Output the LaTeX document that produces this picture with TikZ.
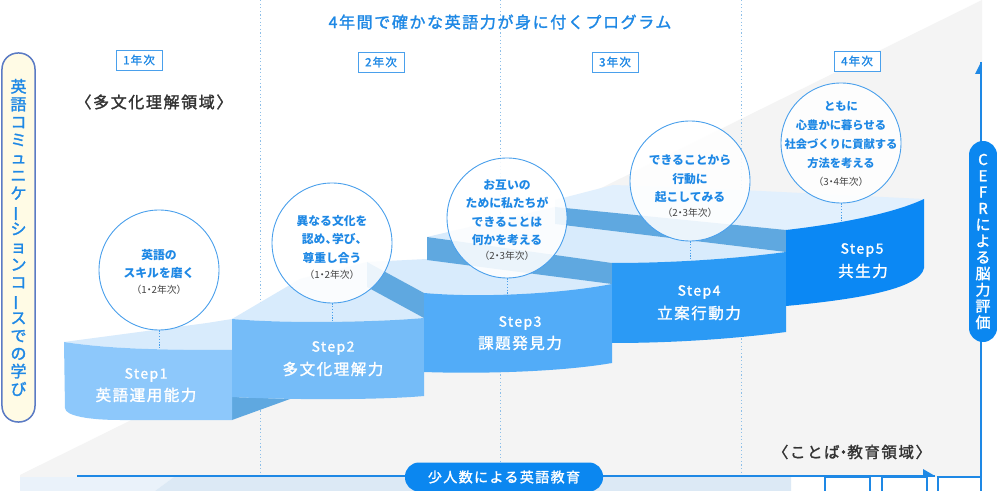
\documentclass[tikz,border=0pt]{standalone}
\usepackage{fontspec}
\setmainfont{Noto Sans CJK JP}
\newfontfamily\jpls{Noto Sans CJK JP}[LetterSpace=10]
\newfontfamily\jpm{Noto Sans CJK JP}[LetterSpace=10, FakeBold=1.6]
\newfontfamily\jpmn{Noto Sans CJK JP}[FakeBold=1.6]
\usetikzlibrary{calc}
\definecolor{bgray}{HTML}{F4F4F4}
\definecolor{blu}{HTML}{1E88E5}
\definecolor{circc}{HTML}{4AA0EC}
\definecolor{topf}{HTML}{D8EBFC}
\definecolor{topl}{HTML}{E2F0FD}
\definecolor{wallc}{HTML}{5FA8E0}
\definecolor{sa}{HTML}{8DC8FB}
\definecolor{sb}{HTML}{75BCF8}
\definecolor{sc}{HTML}{52ACF8}
\definecolor{sd}{HTML}{2B9AF5}
\definecolor{se}{HTML}{0B88F4}
\definecolor{dline}{HTML}{8DBFE8}
\definecolor{bandA}{HTML}{EAF2FA}
\definecolor{bandB}{HTML}{DCE9F5}
\definecolor{pillb}{HTML}{0B87F0}
\definecolor{ylw}{HTML}{FFFBE5}
\definecolor{pillo}{HTML}{5B7BC4}
\definecolor{darkt}{HTML}{333333}
\definecolor{notec}{HTML}{444444}
\newcommand\tatebar{\rotatebox[origin=c]{90}{ー}}
\newcommand\hcomma{\makebox[0.55em][l]{、}}
\newcommand\hdot{\makebox[0.5em][c]{・}}
\tikzset{
  bubble/.style={circle, draw=circc, line width=0.9bp, fill=white, fill opacity=0.88, text opacity=1, minimum size=120bp, inner sep=0pt},
  ctext/.style={text=blu, align=center, font=\bfseries\fontsize{11.8bp}{18.5bp}\selectfont, inner sep=0pt},
  cnote/.style={text=notec, font=\fontsize{9.8bp}{11bp}\selectfont, inner sep=0pt},
  steplbl/.style={text=white, font=\jpm\fontsize{14bp}{15bp}\selectfont, inner sep=0pt},
  stepname/.style={text=white, font=\jpm\fontsize{15.5bp}{18bp}\selectfont, inner sep=0pt},
  yearbox/.style={draw=circc, line width=0.9bp, fill=white, text=blu, minimum width=46bp, minimum height=20bp, inner sep=0pt, font=\jpm\fontsize{11.5bp}{13bp}\selectfont},
  vdot/.style={draw=dline, line width=0.8bp, dash pattern=on 1.2bp off 2.4bp},
  cdot/.style={draw=circc, line width=1bp, dash pattern=on 1.2bp off 1.6bp},
  bluline/.style={draw=blu, line width=1.6bp},
  pill/.style={fill=pillb, text=white, rounded corners=14bp, inner sep=0pt},
}
\begin{document}
\begin{tikzpicture}[x=1bp,y=-1bp]
\useasboundingbox (0,0) rectangle (997,491);
\clip (0,0) rectangle (997,491);
\fill[white] (0,0) rectangle (997,491);
% background
\fill[bgray] (20,475) -- (982,0) -- (982,477) -- (20,477) -- cycle;
\fill[bandA] (20,477) -- (174,477) -- (155,491) -- (20,491) -- cycle;
\fill[bandB] (174,477) -- (791,477) -- (791,491) -- (155,491) -- cycle;
% year dividers
\draw[vdot] (260,0) -- (260,477);
\draw[vdot] (500,0) -- (500,477);
\draw[vdot] (741,0) -- (741,477);
% top faces
\fill[topl] (786,230) -- (555,207) -- (555,200) -- (613,185) -- (700,188) -- (924,199) .. controls (890,215) and (840,224) .. (786,230) -- cycle;
\fill[topf] (612,263) -- (427,237) -- (555,207) -- (555,224) -- (786,252) .. controls (740,258) and (680,263) .. (612,263) -- cycle;
\fill[topf] (424,293) -- (367,262) -- (427,259) -- (612,284) .. controls (560,294) and (480,298) .. (424,293) -- cycle;
\fill[topf] (232,319) -- (300,279) -- (367,262) -- (367,287) -- (424,318) .. controls (380,322) and (290,324) .. (232,319) -- cycle;
\fill[topf] (64,342) -- (207,323) -- (232,319) -- (232,350) .. controls (160,350) and (110,349) .. (64,342) -- cycle;
% walls
\fill[wallc] (424,293) -- (424,318) -- (367,287) -- (367,262) -- cycle;
\fill[wallc] (427,237) -- (612,263) -- (612,284) -- (427,260) -- cycle;
\fill[wallc] (555,207) -- (786,230) -- (786,252) -- (555,224) -- cycle;
\fill[wallc] (232,397) -- (290,399) -- (232,420) -- cycle;
% front faces
\fill[sa] (64,342) .. controls (110,349) and (160,350) .. (232,350) -- (232,420) -- (120,420) .. controls (90,420) and (65,416) .. (65,408) -- cycle;
\fill[sb] (232,319) .. controls (290,324) and (380,322) .. (424,318) -- (424,396) .. controls (380,400) and (290,400) .. (232,397) -- cycle;
\fill[sc] (424,293) .. controls (480,298) and (560,294) .. (612,284) -- (612,363) .. controls (560,372) and (480,374) .. (424,372) -- cycle;
\fill[sd] (612,263) .. controls (680,263) and (740,258) .. (786,252) -- (786,332) .. controls (740,338) and (680,343) .. (612,343) -- cycle;
\fill[se] (786,230) .. controls (830,225) and (890,215) .. (924,199) -- (924,268) .. controls (920,290) and (850,300) .. (786,306) -- cycle;
% step labels
\node[steplbl] (s1) at (146,375) {Step1};
\node[stepname] (n1) at (146,395) {英語運用能力};
\node[steplbl] (s2) at (333,348) {Step2};
\node[stepname] (n2) at (333,369) {多文化理解力};
\node[steplbl] (s3) at (520,323) {Step3};
\node[stepname] (n3) at (520,343) {課題発見力};
\node[steplbl] (s4) at (699,292) {Step4};
\node[stepname] (n4) at (699,313) {立案行動力};
\node[steplbl] (s5) at (862,250) {Step5};
\node[stepname] (n5) at (863,271) {共生力};
% circles
\node[bubble] (c1) at (159,270) {};
\node[bubble] (c2) at (332,243) {};
\node[bubble] (c3) at (507,218) {};
\node[bubble] (c4) at (690,181) {};
\node[bubble] (c5) at (841,143) {};
\coordinate (p1) at (159,349);
\coordinate (p2) at (332,322);
\coordinate (p3) at (507,296);
\coordinate (p4) at (690,260);
\coordinate (p5) at (841,223);
\draw[cdot] (c1.south) -- (p1);
\draw[cdot] (c2.south) -- (p2);
\draw[cdot] (c3.south) -- (p3);
\draw[cdot] (c4.south) -- (p4);
\draw[cdot] (c5.south) -- (p5);
\node[ctext] (t1) at (159,264) {英語の\\スキルを磨く};
\node[cnote] (k1) at (159,290) {（1\hdot 2年次）};
\node[ctext] (t2) at (332,239.5) {異なる文化を\\認め\hcomma 学び\hcomma\\尊重し合う};
\node[cnote] (k2) at (332,275) {（1\hdot 2年次）};
\node[ctext] (t3) at (507,212.5) {お互いの\\ために私たちが\\できることは\\何かを考える};
\node[cnote] (k3) at (507,256) {（2\hdot 3年次）};
\node[ctext] (t4) at (690,179) {できることから\\行動に\\起こしてみる};
\node[cnote] (k4) at (690,213) {（2\hdot 3年次）};
\node[ctext, font=\bfseries\fontsize{11.3bp}{19bp}\selectfont] (t5) at (841,134.5) {ともに\\心豊かに暮らせる\\社会づくりに貢献する\\方法を考える};
\node[cnote] (k5) at (841,182) {（3\hdot 4年次）};
% title and labels
\node[text=blu, font=\jpm\fontsize{16bp}{18bp}\selectfont, inner sep=0pt] (title) at (500,22) {4年間で確かな英語力が身に付くプログラム};
\node[yearbox] (y1) at (139,60) {1年次};
\node[yearbox] (y2) at (381,62) {2年次};
\node[yearbox] (y3) at (615,62) {3年次};
\node[yearbox] (y4) at (857,61) {4年次};
\node[text=darkt, font=\jpm\fontsize{16bp}{18bp}\selectfont, inner sep=0pt] (dom1) at (154,102) {〈多文化理解領域〉};
\node[text=darkt, font=\jpm\fontsize{15.5bp}{18bp}\selectfont, inner sep=0pt] (dom2) at (852,452) {〈ことば\hdot 教育領域〉};
% bottom arrow
\coordinate (ha) at (77,476);
\coordinate (hb) at (935,476);
\draw[bluline] (ha) -- (hb);
\fill[blu] (hb) -- ++(-12,-7) -- ++(0,7) -- cycle;
\node[pill, minimum width=198bp, minimum height=29bp, font=\jpm\fontsize{14bp}{16bp}\selectfont] (small) at (504,477) {少人数による英語教育};
% bottom boxes
\draw[draw=blu, line width=1.2bp, fill=white] (825,477) rectangle (870,496);
\draw[draw=blu, line width=1.2bp, fill=white] (882,477) rectangle (927,496);
\draw[draw=blu, line width=1.2bp, fill=white] (938,477) rectangle (981,496);
% right arrow
\coordinate (va) at (981,491);
\coordinate (vb) at (981,62);
\draw[bluline] (va) -- (vb);
\fill[blu] (vb) -- ++(-6,12) -- ++(6,0) -- cycle;
\node[pill, minimum width=28bp, minimum height=201bp, align=center, font=\jpmn\fontsize{15bp}{16.3bp}\selectfont] (cefr) at (983,241.5) {C\\E\\F\\R\\に\\よ\\る\\脳\\力\\評\\価};
% left pill
\node[draw=pillo, line width=1.5bp, fill=ylw, rounded corners=16bp, minimum width=33bp, minimum height=369bp, inner sep=0pt, text=blu, align=center, font=\jpmn\fontsize{16bp}{17.8bp}\selectfont] (course) at (18.5,237.5) {英\\語\\コ\\ミ\\ュ\\ニ\\ケ\\\tatebar\\シ\\ョ\\ン\\コ\\\tatebar\\ス\\で\\の\\学\\び};
\end{tikzpicture}
\end{document}
